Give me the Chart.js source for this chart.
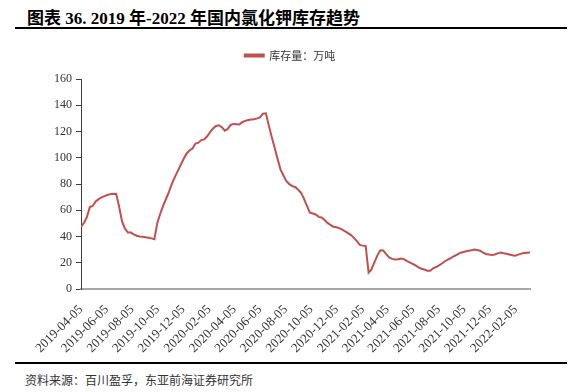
<!DOCTYPE html>
<html>
<head>
<meta charset="utf-8">
<script src="https://cdn.jsdelivr.net/npm/chart.js@4/dist/chart.umd.min.js"></script>
<style>
    body { margin: 0; background: #fff; }
    #page { position: relative; width: 571px; height: 392px; overflow: hidden; }
    .title { position: absolute; left: 27px; top: 4px; font: bold 17px 'Liberation Serif', 'Noto Sans CJK SC', serif; color: #000; }
    .rule { position: absolute; left: 15px; width: 552px; height: 2px; background: #000; }
    .source { position: absolute; left: 25px; top: 371px; font: 12px 'Noto Sans CJK SC', sans-serif; color: #333; }
    #wrap { position: absolute; left: 0; top: 40px; width: 571px; height: 321px; }
</style>
</head>
<body>
<div id="page">
    <div class="title">图表 36. 2019 年-2022 年国内氯化钾库存趋势</div>
    <div class="rule" style="top: 27px;"></div>
    <div id="wrap"><canvas id="stockChart"></canvas></div>
    <div class="rule" style="top: 362px;"></div>
    <div class="source">资料来源：百川盈孚，东亚前海证券研究所</div>
</div>
<script>
// Weekly series, first value on 2019-04-05
const startDate = '2019-04-05';
const seriesName = '库存量：万吨';
const stockValues = [
    47.4, 50.3, 54.7, 62.5, 63.3, 66.7, 68.5, 69.9, 70.8, 71.6,
    72.3, 72.6, 72.5, 62.7, 51.3, 46.0, 43.0, 43.0, 41.7, 40.6,
    40.0, 39.8, 39.5, 39.1, 38.6, 38.0, 50.3, 57.4, 63.6, 68.8,
    74.2, 80.3, 85.5, 90.0, 94.7, 99.2, 103.3, 105.7, 107.0, 110.8,
    111.5, 113.5, 114.0, 116.4, 119.6, 122.3, 124.2, 124.8, 123.3, 120.6,
    122.0, 125.0, 125.8, 125.6, 125.4, 127.3, 128.1, 128.7, 129.1, 129.4,
    130.0, 130.8, 133.6, 133.9, 124.5, 115.8, 107.4, 99.0, 91.0, 86.5,
    82.2, 79.9, 78.4, 77.8, 75.7, 73.4, 68.7, 63.4, 58.2, 57.6,
    56.8, 55.0, 54.5, 52.6, 50.4, 48.9, 47.5, 47.1, 46.4, 45.2,
    44.0, 42.6, 41.1, 39.0, 36.5, 33.6, 33.1, 32.8, 12.5, 15.2,
    20.5, 25.7, 29.5, 29.4, 26.7, 24.1, 23.0, 22.5, 22.7, 23.3,
    22.8, 21.5, 20.3, 19.2, 18.0, 16.5, 15.5, 14.9, 14.0, 14.0,
    15.8, 16.8, 18.0, 19.5, 21.2, 22.4, 23.6, 24.9, 26.1, 27.4,
    28.0, 28.6, 29.2, 29.6, 30.1, 29.8, 29.2, 27.8, 26.7, 26.3,
    26.0, 26.3, 27.2, 27.8, 27.3, 26.9, 26.4, 25.8, 25.4, 26.2,
    27.0, 27.4, 27.7, 27.9
];
const tickLabels = [
    '2019-04-05', '2019-06-05', '2019-08-05', '2019-10-05', '2019-12-05',
    '2020-02-05', '2020-04-05', '2020-06-05', '2020-08-05', '2020-10-05',
    '2020-12-05', '2021-02-05', '2021-04-05', '2021-06-05', '2021-08-05',
    '2021-10-05', '2021-12-05', '2022-02-05'
];
const yTicks = { min: 0, max: 160, step: 20 };

const DAY = 86400000;
const dayOf = (d) => Math.round((Date.parse(d) - Date.parse(startDate)) / DAY);
const points = stockValues.map((v, i) => ({ x: i * 7, y: v }));
const tickDays = tickLabels.map(dayOf);

const serif = "'Liberation Serif', 'Times New Roman', serif";

// extra room between the legend and the plot
const legendGap = {
    id: 'legendGap',
    beforeInit(chart) {
        const fit = chart.legend.fit;
        chart.legend.fit = function () {
            fit.bind(chart.legend)();
            this.height += 8;
        };
    }
};

const ctx = document.getElementById('stockChart').getContext('2d');
new Chart(ctx, {
    type: 'line',
    data: {
        datasets: [{
            label: seriesName,
            data: points,
            borderColor: '#C0504D',
            backgroundColor: '#C0504D',
            borderWidth: 2,
            pointRadius: 0,
            tension: 0
        }]
    },
    options: {
        responsive: true,
        maintainAspectRatio: false,
        animation: false,
        layout: { padding: { left: 50, right: 41, top: 0, bottom: 0 } },
        plugins: {
            legend: {
                position: 'top',
                labels: {
                    boxWidth: 19,
                    boxHeight: 2,
                    color: '#333',
                    font: { family: "'Noto Sans CJK SC', sans-serif", size: 11 }
                }
            },
            tooltip: { enabled: false }
        },
        scales: {
            x: {
                type: 'linear',
                min: 0,
                max: (stockValues.length - 1) * 7,
                afterBuildTicks: (axis) => {
                    axis.ticks = tickDays.map(v => ({ value: v }));
                },
                grid: { display: false },
                border: { display: true, color: '#A6A6A6', width: 2 },
                ticks: {
                    autoSkip: false,
                    minRotation: 45,
                    maxRotation: 45,
                    padding: 5,
                    color: '#333',
                    font: { family: serif, size: 13 },
                    callback: (value) => {
                        const idx = tickDays.indexOf(value);
                        return idx >= 0 ? tickLabels[idx] : '';
                    }
                }
            },
            y: {
                min: yTicks.min,
                max: yTicks.max,
                grid: { drawOnChartArea: false, drawTicks: true, tickLength: 5, color: '#404040' },
                border: { display: true, color: '#404040', width: 1 },
                ticks: {
                    stepSize: yTicks.step,
                    padding: 4,
                    color: '#333',
                    font: { family: serif, size: 12 }
                }
            }
        }
    },
    plugins: [legendGap]
});
</script>
</body>
</html>
